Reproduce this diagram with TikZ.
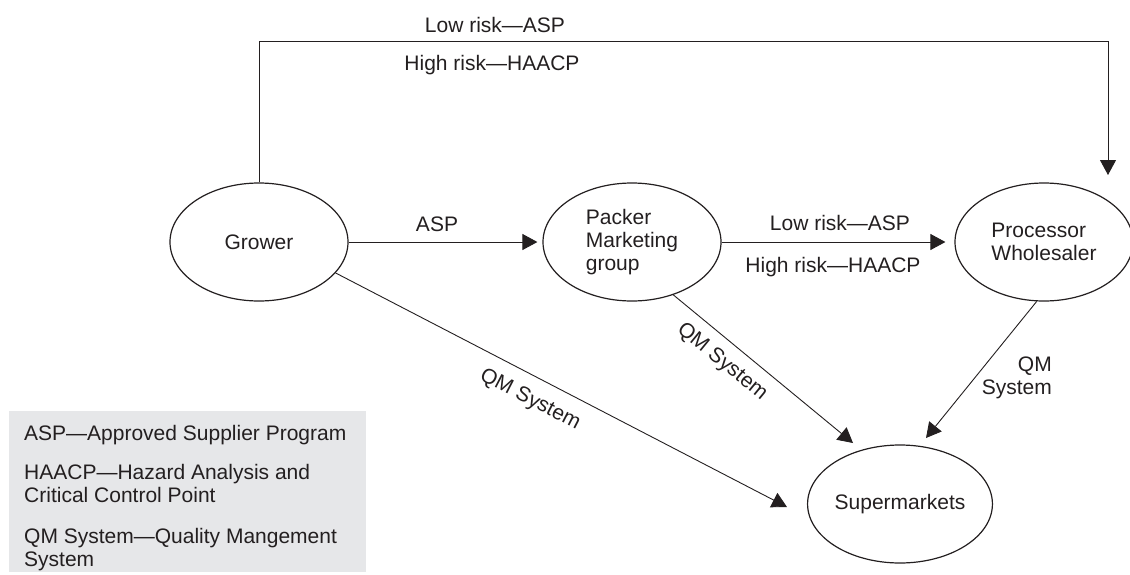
\documentclass[tikz,border=0pt]{standalone}
\usepackage{fontspec}
\setmainfont{Liberation Sans}
\usetikzlibrary{arrows.meta,shapes.geometric}
\definecolor{ink}{HTML}{231F20}
\definecolor{legendgray}{HTML}{E6E7E9}
\begin{document}
\begin{tikzpicture}[x=1pt,y=-1pt,
  every node/.style={font=\fontsize{21}{23}\selectfont, text=ink},
  party/.style={draw=ink, line width=1.2pt, ellipse, minimum width=178pt,
    minimum height=118pt, inner sep=0pt, align=left},
  flow/.style={draw=ink, line width=0.9pt,
    -{Triangle[length=15pt,width=16pt]}},
  tag/.style={inner sep=1pt},
  keytext/.style={anchor=west, align=left, inner sep=0pt}]
  \useasboundingbox (0,0) rectangle (1130,574);

  % parties in the supply chain
  \node[party] (grower) at (259,242) {Grower};
  \node[party] (packer) at (632,242) {Packer\\Marketing\\group};
  \node[party] (proc)   at (1044,242) {Processor\\Wholesaler};
  \node[party] (super)  at (900,504) {Supermarkets};

  % free ends of the connectors
  \coordinate (topright) at (1108,41);
  \coordinate (proctop)  at (1108,175);
  \coordinate (sgrower)  at (787,507);
  \coordinate (spacker)  at (853,443);
  \coordinate (sproc)    at (926,438);

  % grower straight to processor, over the top
  \draw[flow] (grower.north) |- (topright) -- (proctop);
  \node[tag] (toplow)  at (495,25) {Low risk—ASP};
  \node[tag] (tophigh) at (492,65) {High risk—HAACP};

  % grower to packer
  \draw[flow, shorten >=5pt] (grower.east) -- (packer.west);
  \node[tag] (asp) at (437,224) {ASP};

  % packer to processor
  \draw[flow, shorten >=9pt] (packer.east) -- (proc.west);
  \node[tag] (midlow)  at (840,223) {Low risk—ASP};
  \node[tag] (midhigh) at (833,267) {High risk—HAACP};

  % quality management links into the supermarkets
  \draw[flow] (grower.-22) -- (sgrower);
  \node[tag, rotate=-27.4] (qmg) at (530,400) {QM System};
  \draw[flow] (packer.-52) -- (spacker);
  \node[tag, rotate=-39.4] (qmp) at (722,362) {QM System};
  \draw[flow] (proc.-97) -- (sproc);
  \node[tag, anchor=east, align=right, inner sep=0pt] (qmr) at (1052,377.5) {QM\\System};

  % key to abbreviations
  \fill[legendgray] (9,411) rectangle (366,572);
  \node[keytext] (kasp)   at (24,435) {ASP—Approved Supplier Program};
  \node[keytext] (khaacp) at (24,483.5) {HAACP—Hazard Analysis and\\Critical Control Point};
  \node[keytext] (kqm)    at (24,550) {QM System—Quality Mangement\\System};
\end{tikzpicture}
\end{document}
